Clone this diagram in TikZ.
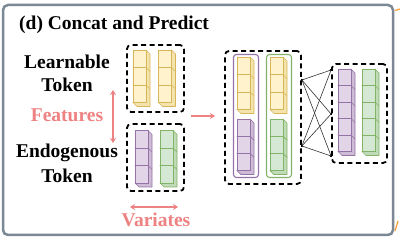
\documentclass[tikz,border=0pt]{standalone}
\usepackage{fontspec}
\setmainfont{Liberation Serif}
\usetikzlibrary{arrows.meta}
\definecolor{pinkc}{RGB}{238,130,130}
\definecolor{yfill}{HTML}{FFF2CC}\definecolor{ydraw}{HTML}{D6B656}
\definecolor{pfill}{HTML}{E1D5E7}\definecolor{pdraw}{HTML}{9673A6}
\definecolor{gfill}{HTML}{D5E8D4}\definecolor{gdraw}{HTML}{82B366}
\definecolor{framec}{RGB}{125,136,150}
\definecolor{orangec}{RGB}{245,160,60}
\newcommand\cubecol[6]{% x, ytop, n, h, fill, draw
  \foreach \k in {1,...,#3}{%
    \pgfmathsetmacro\yy{#2+(\k-1)*#4}%
    \pgfmathsetmacro\xx{#1+13}%
    \draw[draw=#6, fill=#5!75!#6, line width=0.7pt, line join=round] (\xx,\yy) -- ++(4,4) -- ++(0,#4) -- ++(-13,0) -- ++(-4,-4) -- cycle;
    \draw[draw=#6, fill=#5, line width=0.7pt] (#1,\yy) rectangle ++(13,#4);
  }}
\begin{document}
\begin{tikzpicture}[x=1pt,y=-1pt,
  dbox/.style={draw=black, line width=1.8pt, dash pattern=on 5pt off 3.5pt, rounded corners=4pt, inner sep=0pt},
  grp/.style={line width=1.1pt, rounded corners=3pt, inner sep=0pt},
  lbl/.style={font=\bfseries\fontsize{19.5}{23}\selectfont, inner sep=0pt, anchor=base},
  plbl/.style={lbl, text=pinkc},
  parr/.style={draw=pinkc, line width=1.5pt},
  link/.style={draw=black!80, line width=0.6pt},
  dotm/.style={fill=black, inner sep=0pt, minimum size=2.2pt}]
\useasboundingbox (0,0) rectangle (400,240);
% frame
\draw[framec, line width=2.5pt, rounded corners=5pt] (3,5) rectangle (393,235);
\draw[orangec, line width=1.2pt] (395,10.5) -- (400,9);
\draw[orangec, line width=1.2pt] (395,231) -- (398,221);
% title
\node[lbl, anchor=base west] (title) at (19,30) {(d) Concat and Predict};
% left labels
\node[lbl] (learn1) at (67,69) {Learnable};
\node[lbl] (learn2) at (67,92) {Token};
\node[plbl] (feat) at (67,122) {Features};
\node[lbl] (endo1) at (67,158) {Endogenous};
\node[lbl] (endo2) at (67,183) {Token};
\node[plbl] (vari) at (156,227) {Variates};
% dashed boxes
\node[dbox, minimum width=57pt, minimum height=67pt] (lb) at (155.5,78.5) {};
\node[dbox, minimum width=57pt, minimum height=67pt] (eb) at (155.5,157.5) {};
\node[dbox, minimum width=76pt, minimum height=133pt] (mid) at (263,117.5) {};
\node[dbox, minimum width=55pt, minimum height=99pt] (rb) at (359.5,113.5) {};
% group rects
\node[grp, draw=pdraw, minimum width=25pt, minimum height=123pt] (pg) at (246,116) {};
\node[grp, draw=gdraw, minimum width=25pt, minimum height=123pt] (gg) at (279,116) {};
% cubes
\cubecol{133}{50}{3}{17.5}{yfill}{ydraw}
\cubecol{158.5}{50}{3}{17.5}{yfill}{ydraw}
\cubecol{135}{130.5}{3}{17.5}{pfill}{pdraw}
\cubecol{160}{130.5}{3}{17.5}{gfill}{gdraw}
\cubecol{237}{57}{3}{17.5}{yfill}{ydraw}
\cubecol{237}{119}{3}{17.2}{pfill}{pdraw}
\cubecol{270}{57}{3}{17.5}{yfill}{ydraw}
\cubecol{270}{119}{3}{17.2}{gfill}{gdraw}
\cubecol{338}{69}{5}{16.5}{pfill}{pdraw}
\cubecol{362}{69}{5}{16.5}{gfill}{gdraw}
% links
\coordinate (ya) at (0,80);
\coordinate (yb) at (0,146);
\coordinate (r1) at (0,70);
\coordinate (r2) at (0,114);
\coordinate (r3) at (0,156);
\node[dotm] (l1) at (mid.east |- ya) {};
\node[dotm] (l2) at (mid.east |- yb) {};
\node[dotm] (q1) at (rb.west |- r1) {};
\node[dotm] (q2) at (rb.west |- r2) {};
\node[dotm] (q3) at (rb.west |- r3) {};
\foreach \a in {l1,l2}{\foreach \b in {q1,q2,q3}{\draw[link] (\a.center) -- (\b.center);}}
% pink arrows
\coordinate (fa) at (113,90);
\coordinate (fb) at (113,143);
\draw[parr, {Stealth[length=5pt,width=6pt]}-{Stealth[length=5pt,width=6pt]}] (fa) -- (fb);
\coordinate (va) at (130,207);
\coordinate (vb) at (178,207);
\draw[parr, {Stealth[length=5pt,width=6pt]}-{Stealth[length=5pt,width=6pt]}] (va) -- (vb);
\coordinate (ma) at (191,116);
\coordinate (mb) at (215,116);
\draw[parr, -{Stealth[length=5pt,width=6pt]}] (ma) -- (mb);
\end{tikzpicture}
\end{document}
